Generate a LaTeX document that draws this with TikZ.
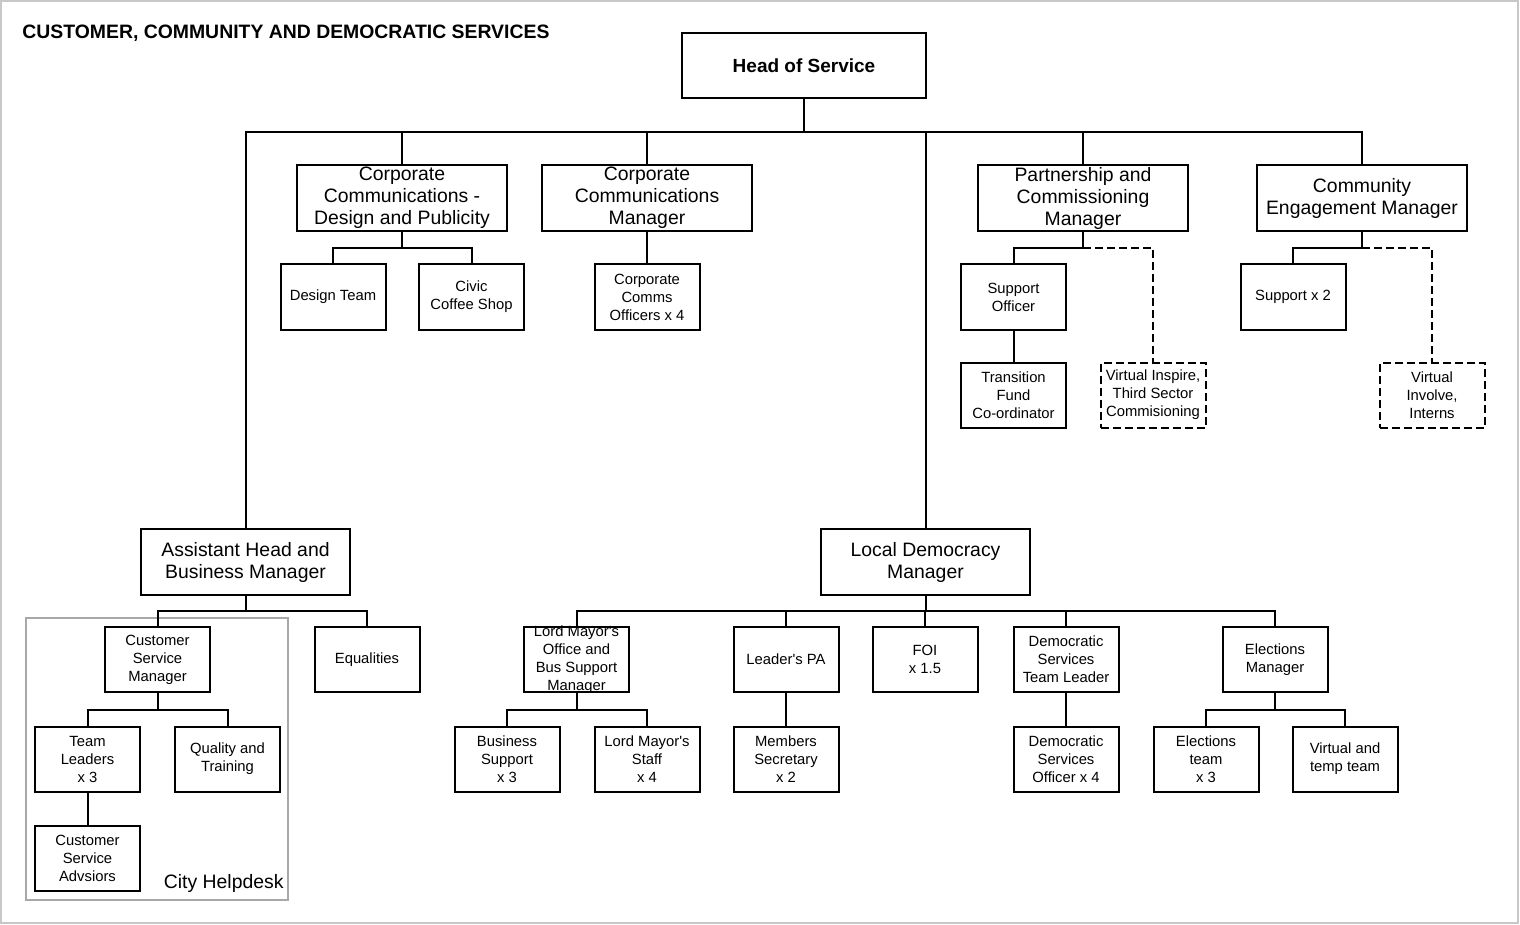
\documentclass[tikz,border=0pt]{standalone}
\usepackage{fontspec}
\setmainfont{Liberation Sans}
\definecolor{framegray}{HTML}{C8C8C8}
\definecolor{deskgray}{HTML}{A8A8A8}
\tikzset{
  post/.style={draw, line width=1pt, align=center, inner sep=0pt,
    minimum height=33pt, font=\fontsize{9.7}{11}\selectfont},
  bigpost/.style={post, minimum width=105pt},
  smallpost/.style={post, minimum width=52.5pt, minimum height=32.5pt,
    font=\fontsize{7.4}{9}\selectfont},
  virtualpost/.style={smallpost, dash pattern=on 4pt off 2pt},
  link/.style={line width=1pt},
  virtuallink/.style={link, dash pattern=on 4pt off 2pt},
}

\begin{document}
\begin{tikzpicture}[x=0.5pt, y=-0.5pt]
      \useasboundingbox (0,0) rectangle (1520,925);
      \draw[framegray, line width=1pt] (1,1) rectangle (1518,923);

      % Bus levels
      \coordinate (bus1) at (0,132);
      \coordinate (bus2) at (0,248);
      \coordinate (bus3) at (0,611);
      \coordinate (bus4) at (0,710);

      \node[anchor=west, inner sep=0pt, font=\bfseries\fontsize{9.7}{11}\selectfont] (title) at (22,33)
        {CUSTOMER, COMMUNITY AND DEMOCRATIC SERVICES};
      \node[post, minimum width=122pt, minimum height=32.5pt,
        font=\bfseries\fontsize{9.5}{11}\selectfont] (hos) at (804,65.5) {Head of Service};

      % First row
      \node[bigpost] (ccdp) at (402,198) {Corporate\\Communications -\\Design and Publicity};
      \node[bigpost] (ccm) at (647,198) {Corporate\\Communications\\Manager};
      \node[bigpost] (pcm) at (1083,198) {Partnership and\\Commissioning\\Manager};
      \node[bigpost] (cem) at (1362,198) {Community\\Engagement Manager};

      \node[smallpost] (dt) at (333,297) {Design Team};
      \node[smallpost] (ccs) at (471.5,297) {Civic\\Coffee Shop};
      \node[smallpost] (cco) at (647,297) {Corporate\\Comms\\Officers x 4};
      \node[smallpost] (so) at (1013.5,297) {Support\\Officer};
      \node[smallpost] (sup) at (1293,297) {Support x 2};
      \node[smallpost] (tfc) at (1013.5,395) {Transition\\Fund\\Co-ordinator};
      \node[virtualpost] (vit) at (1153,395) {Virtual Inspire,\\Third Sector\\Commisioning};
      \node[virtualpost] (vii) at (1432,395) {Virtual\\Involve,\\Interns};

      % Second tier managers
      \node[bigpost, minimum width=104.5pt] (ahbm) at (245.5,562) {Assistant Head and\\Business Manager};
      \node[bigpost, minimum width=104.5pt] (ldm) at (925.5,562) {Local Democracy\\Manager};

      % City helpdesk
      \draw[deskgray, line width=0.8pt] (26,618) rectangle (288,900);
      \node[anchor=east, inner sep=0pt, font=\fontsize{9.7}{11}\selectfont] (desk) at (284,883) {City Helpdesk};

      \node[smallpost] (csm) at (157.5,659.5) {Customer\\Service\\Manager};
      \node[smallpost] (eq) at (367,659.5) {Equalities};
      \node[smallpost] (lmo) at (576.5,659.5) {};
      \node[font=\fontsize{7.4}{9}\selectfont, align=center, inner sep=0pt] (lmotext) at (lmo)
        {Lord Mayor\textquotesingle s\\Office and\\Bus Support\\Manager};
      \node[smallpost] (lpa) at (786,659.5) {Leader\textquotesingle s PA};
      \node[smallpost] (foi) at (925,659.5) {FOI\\x 1.5};
      \node[smallpost] (dstl) at (1066,659.5) {Democratic\\Services\\Team Leader};
      \node[smallpost] (em) at (1275,659.5) {Elections\\Manager};

      \node[smallpost] (tl) at (87.5,759) {Team\\Leaders\\x 3};
      \node[smallpost] (qt) at (227.5,759) {Quality and\\Training};
      \node[smallpost] (bs) at (507,759) {Business\\Support\\x 3};
      \node[smallpost] (lms) at (647,759) {Lord Mayor\textquotesingle s\\Staff\\x 4};
      \node[smallpost] (ms) at (786,759) {Members\\Secretary\\x 2};
      \node[smallpost] (dso) at (1066,759) {Democratic\\Services\\Officer x 4};
      \node[smallpost] (et) at (1206,759) {Elections\\team\\x 3};
      \node[smallpost] (vtt) at (1345,759) {Virtual and\\temp team};
      \node[smallpost] (csa) at (87.5,858) {Customer\\Service\\Advsiors};

      % Top links
      \draw[link] (hos.south) -- (hos.south |- bus1);
      \draw[link] (ahbm.north) |- (cem.north |- bus1) -- (cem.north);
      \foreach \n in {ccdp, ccm, pcm, ldm}
        \draw[link] (\n.north) -- (\n.north |- bus1);

      \draw[link] (ccdp.south) -- (ccdp.south |- bus2);
      \draw[link] (dt.north) |- (ccs.north |- bus2) -- (ccs.north);
      \draw[link] (ccm.south) -- (cco.north);
      \draw[link] (so.north) |- (pcm.south |- bus2) -- (pcm.south);
      \draw[virtuallink] (pcm.south |- bus2) -| (vit.north);
      \draw[link] (so.south) -- (tfc.north);
      \draw[link] (sup.north) |- (cem.south |- bus2) -- (cem.south);
      \draw[virtuallink] (cem.south |- bus2) -| (vii.north);

      % Lower links
      \draw[link] (ahbm.south) -- (ahbm.south |- bus3);
      \draw[link] (csm.north) |- (eq.north |- bus3) -- (eq.north);
      \draw[link] (ldm.south) -- (ldm.south |- bus3);
      \draw[link] (lmo.north) |- (em.north |- bus3) -- (em.north);
      \foreach \n in {lpa, foi, dstl}
        \draw[link] (\n.north) -- (\n.north |- bus3);

      \draw[link] (csm.south) -- (csm.south |- bus4);
      \draw[link] (tl.north) |- (qt.north |- bus4) -- (qt.north);
      \draw[link] (tl.south) -- (csa.north);
      \draw[link] (lmo.south) -- (lmo.south |- bus4);
      \draw[link] (bs.north) |- (lms.north |- bus4) -- (lms.north);
      \draw[link] (lpa.south) -- (ms.north);
      \draw[link] (dstl.south) -- (dso.north);
      \draw[link] (em.south) -- (em.south |- bus4);
      \draw[link] (et.north) |- (vtt.north |- bus4) -- (vtt.north);
\end{tikzpicture}
\end{document}
